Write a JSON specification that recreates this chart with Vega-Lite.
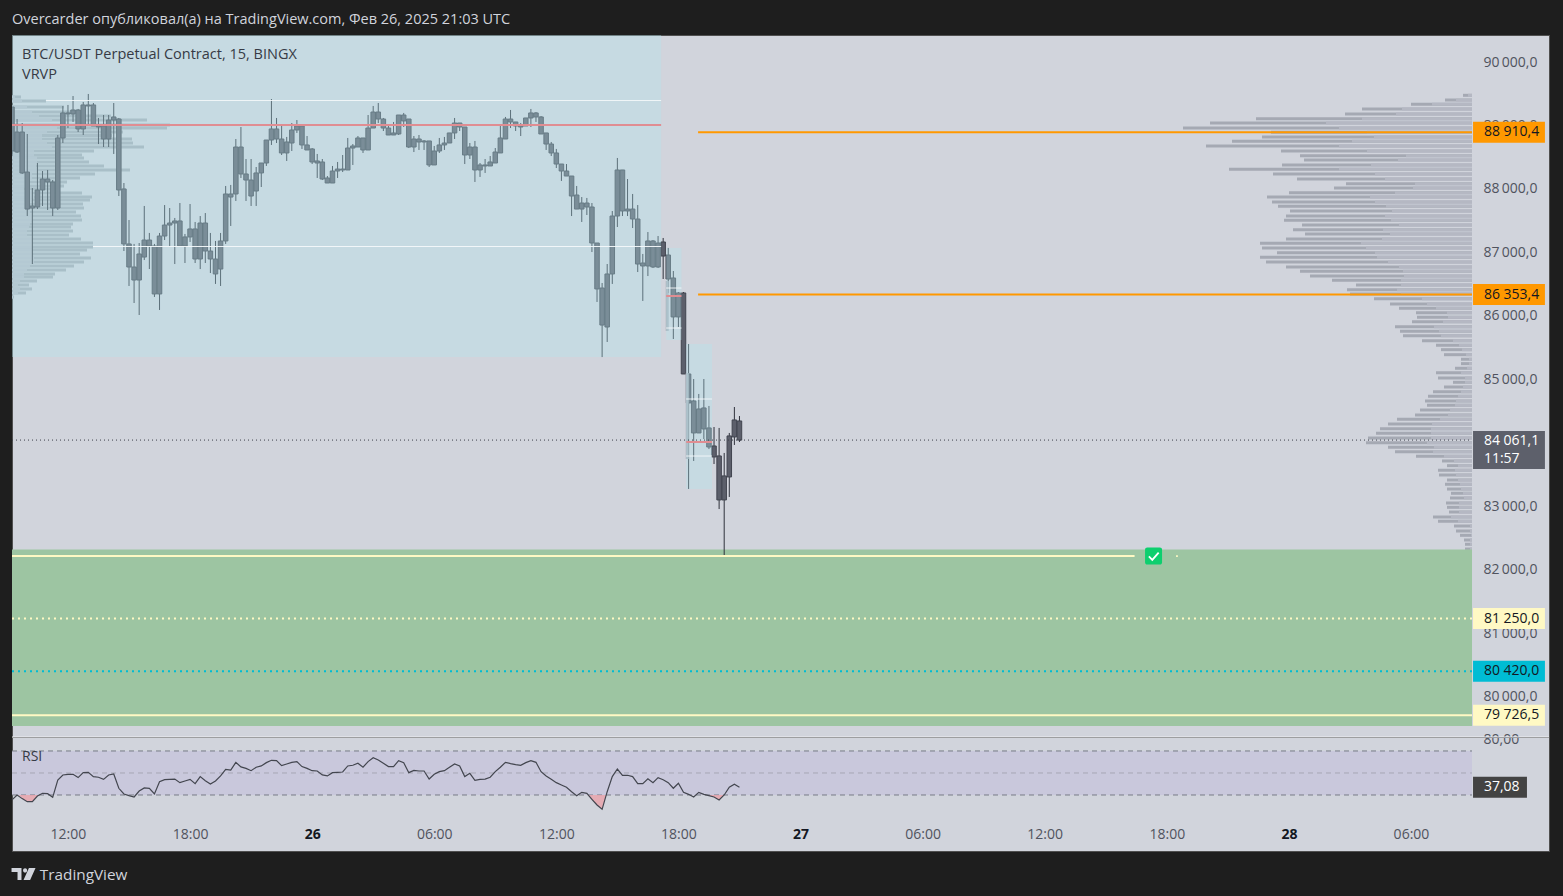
{
"$schema":"https://vega.github.io/schema/vega-lite/v6.json",
"background":"#1e1e1e",
"padding":{"left":9,"top":12,"right":13,"bottom":0},
"title":{"text":"Overcarder опубликовал(а) на TradingView.com, Фев 26, 2025 21:03 UTC","anchor":"start","frame":"group","fontSize":14.5,"fontWeight":"normal","color":"#d1d4dc","offset":7},
"config":{"font":"Open Sans","view":{"stroke":null}},
"spacing":0,
"bounds":"flush",
"datasets":{
"candles":[
{"t":"2025-02-25T09:15Z","o":89307,"h":89307,"l":88535,"c":88614,"rsi":25.5},
{"t":"2025-02-25T09:30Z","o":88598,"h":89118,"l":88583,"c":88913,"rsi":30},
{"t":"2025-02-25T09:45Z","o":88913,"h":89055,"l":88252,"c":88268,"rsi":26.7},
{"t":"2025-02-25T10:00Z","o":88283,"h":88882,"l":87590,"c":87700,"rsi":23.9},
{"t":"2025-02-25T10:15Z","o":87748,"h":88031,"l":86834,"c":87716,"rsi":23.9},
{"t":"2025-02-25T10:30Z","o":87732,"h":88425,"l":87700,"c":88000,"rsi":29.1},
{"t":"2025-02-25T10:45Z","o":88000,"h":88299,"l":87748,"c":88173,"rsi":31.5},
{"t":"2025-02-25T11:00Z","o":88173,"h":88315,"l":87685,"c":88126,"rsi":31.2},
{"t":"2025-02-25T11:15Z","o":88126,"h":88157,"l":87590,"c":87716,"rsi":27.9},
{"t":"2025-02-25T11:30Z","o":87716,"h":88866,"l":87685,"c":88819,"rsi":43.6},
{"t":"2025-02-25T11:45Z","o":88819,"h":89323,"l":88740,"c":89213,"rsi":48.2},
{"t":"2025-02-25T12:00Z","o":89213,"h":89339,"l":88976,"c":89197,"rsi":48.8},
{"t":"2025-02-25T12:15Z","o":89197,"h":89480,"l":89071,"c":89260,"rsi":48.8},
{"t":"2025-02-25T12:30Z","o":89260,"h":89276,"l":88913,"c":88961,"rsi":45.8},
{"t":"2025-02-25T12:45Z","o":88961,"h":89386,"l":88866,"c":89339,"rsi":50.3},
{"t":"2025-02-25T13:00Z","o":89339,"h":89512,"l":89039,"c":89323,"rsi":50.6},
{"t":"2025-02-25T13:15Z","o":89339,"h":89370,"l":89008,"c":89008,"rsi":46.7},
{"t":"2025-02-25T13:30Z","o":89008,"h":89134,"l":88724,"c":88992,"rsi":46.1},
{"t":"2025-02-25T13:45Z","o":89008,"h":89181,"l":88677,"c":88803,"rsi":44.2},
{"t":"2025-02-25T14:00Z","o":88803,"h":89181,"l":88677,"c":89102,"rsi":48.2},
{"t":"2025-02-25T14:15Z","o":89102,"h":89370,"l":88567,"c":89150,"rsi":49.1},
{"t":"2025-02-25T14:30Z","o":89118,"h":89134,"l":87905,"c":88000,"rsi":36.1},
{"t":"2025-02-25T14:45Z","o":88016,"h":88110,"l":87039,"c":87150,"rsi":30.9},
{"t":"2025-02-25T15:00Z","o":87150,"h":87527,"l":86488,"c":86787,"rsi":29.4},
{"t":"2025-02-25T15:15Z","o":86787,"h":87150,"l":86220,"c":86582,"rsi":28.2},
{"t":"2025-02-25T15:30Z","o":86582,"h":87165,"l":86031,"c":86992,"rsi":33.6},
{"t":"2025-02-25T15:45Z","o":86944,"h":87748,"l":86897,"c":87212,"rsi":36.4},
{"t":"2025-02-25T16:00Z","o":87212,"h":87323,"l":86755,"c":87118,"rsi":36.1},
{"t":"2025-02-25T16:15Z","o":87118,"h":87150,"l":86315,"c":86362,"rsi":30.9},
{"t":"2025-02-25T16:30Z","o":86362,"h":87323,"l":86110,"c":87275,"rsi":42.1},
{"t":"2025-02-25T16:45Z","o":87275,"h":87763,"l":87212,"c":87448,"rsi":43.9},
{"t":"2025-02-25T17:00Z","o":87448,"h":87716,"l":87118,"c":87480,"rsi":44.2},
{"t":"2025-02-25T17:15Z","o":87480,"h":87559,"l":86834,"c":87512,"rsi":44.5},
{"t":"2025-02-25T17:30Z","o":87512,"h":87795,"l":87118,"c":87118,"rsi":41.2},
{"t":"2025-02-25T17:45Z","o":87118,"h":87307,"l":86850,"c":87260,"rsi":42.7},
{"t":"2025-02-25T18:00Z","o":87260,"h":87779,"l":87181,"c":87386,"rsi":44.2},
{"t":"2025-02-25T18:15Z","o":87386,"h":87496,"l":86850,"c":86913,"rsi":40.3},
{"t":"2025-02-25T18:30Z","o":86913,"h":87590,"l":86755,"c":87480,"rsi":46.7},
{"t":"2025-02-25T18:45Z","o":87480,"h":87637,"l":86850,"c":87039,"rsi":43},
{"t":"2025-02-25T19:00Z","o":87039,"h":87323,"l":86692,"c":86913,"rsi":40},
{"t":"2025-02-25T19:15Z","o":86913,"h":87197,"l":86520,"c":86677,"rsi":42.7},
{"t":"2025-02-25T19:30Z","o":86755,"h":87323,"l":86488,"c":87197,"rsi":47.3},
{"t":"2025-02-25T19:45Z","o":87197,"h":88063,"l":87150,"c":87937,"rsi":53.3},
{"t":"2025-02-25T20:00Z","o":87937,"h":88079,"l":87433,"c":87889,"rsi":52.7},
{"t":"2025-02-25T20:15Z","o":87937,"h":88803,"l":87827,"c":88677,"rsi":59.7},
{"t":"2025-02-25T20:30Z","o":88677,"h":88992,"l":88189,"c":88252,"rsi":55.5},
{"t":"2025-02-25T20:45Z","o":88252,"h":88488,"l":87827,"c":88157,"rsi":54.2},
{"t":"2025-02-25T21:00Z","o":88157,"h":88488,"l":87748,"c":87905,"rsi":52.1},
{"t":"2025-02-25T21:15Z","o":87984,"h":88362,"l":87748,"c":88268,"rsi":55.2},
{"t":"2025-02-25T21:30Z","o":88268,"h":88425,"l":88047,"c":88425,"rsi":56.4},
{"t":"2025-02-25T21:45Z","o":88425,"h":88787,"l":88378,"c":88787,"rsi":59.4},
{"t":"2025-02-25T22:00Z","o":88787,"h":89433,"l":88709,"c":88961,"rsi":61.5},
{"t":"2025-02-25T22:15Z","o":88961,"h":89134,"l":88740,"c":88803,"rsi":61.2},
{"t":"2025-02-25T22:30Z","o":88803,"h":89024,"l":88551,"c":88583,"rsi":56.7},
{"t":"2025-02-25T22:45Z","o":88583,"h":88835,"l":88457,"c":88756,"rsi":58.2},
{"t":"2025-02-25T23:00Z","o":88740,"h":89055,"l":88614,"c":88945,"rsi":59.7},
{"t":"2025-02-25T23:15Z","o":88945,"h":89102,"l":88898,"c":89008,"rsi":60.3},
{"t":"2025-02-25T23:30Z","o":89008,"h":89008,"l":88646,"c":88709,"rsi":55.8},
{"t":"2025-02-25T23:45Z","o":88709,"h":88850,"l":88630,"c":88630,"rsi":54.2},
{"t":"2025-02-26T00:00Z","o":88646,"h":88661,"l":88409,"c":88441,"rsi":52.1},
{"t":"2025-02-26T00:15Z","o":88457,"h":88567,"l":88189,"c":88425,"rsi":51.8},
{"t":"2025-02-26T00:30Z","o":88441,"h":88488,"l":88157,"c":88173,"rsi":48.2},
{"t":"2025-02-26T00:45Z","o":88189,"h":88220,"l":88110,"c":88110,"rsi":47.3},
{"t":"2025-02-26T01:00Z","o":88110,"h":88378,"l":88110,"c":88299,"rsi":50.3},
{"t":"2025-02-26T01:15Z","o":88299,"h":88441,"l":88189,"c":88330,"rsi":50.6},
{"t":"2025-02-26T01:30Z","o":88315,"h":88551,"l":88283,"c":88330,"rsi":50.9},
{"t":"2025-02-26T01:45Z","o":88315,"h":88819,"l":88315,"c":88661,"rsi":56.4},
{"t":"2025-02-26T02:00Z","o":88661,"h":88724,"l":88394,"c":88693,"rsi":57},
{"t":"2025-02-26T02:15Z","o":88677,"h":88850,"l":88677,"c":88819,"rsi":58.8},
{"t":"2025-02-26T02:30Z","o":88819,"h":88819,"l":88583,"c":88630,"rsi":55.2},
{"t":"2025-02-26T02:45Z","o":88630,"h":89181,"l":88630,"c":88976,"rsi":60.3},
{"t":"2025-02-26T03:00Z","o":88976,"h":89323,"l":88976,"c":89228,"rsi":63.9},
{"t":"2025-02-26T03:15Z","o":89228,"h":89370,"l":89055,"c":89118,"rsi":61.8},
{"t":"2025-02-26T03:30Z","o":89118,"h":89134,"l":88929,"c":88976,"rsi":58.8},
{"t":"2025-02-26T03:45Z","o":88976,"h":89039,"l":88866,"c":88866,"rsi":55.8},
{"t":"2025-02-26T04:00Z","o":88866,"h":89071,"l":88866,"c":88898,"rsi":55.8},
{"t":"2025-02-26T04:15Z","o":88882,"h":89181,"l":88866,"c":89181,"rsi":61.2},
{"t":"2025-02-26T04:30Z","o":89181,"h":89213,"l":88992,"c":89087,"rsi":59.4},
{"t":"2025-02-26T04:45Z","o":89118,"h":89118,"l":88661,"c":88677,"rsi":50.3},
{"t":"2025-02-26T05:00Z","o":88677,"h":88850,"l":88598,"c":88803,"rsi":52.4},
{"t":"2025-02-26T05:15Z","o":88803,"h":88866,"l":88630,"c":88756,"rsi":51.8},
{"t":"2025-02-26T05:30Z","o":88756,"h":88787,"l":88630,"c":88772,"rsi":51.8},
{"t":"2025-02-26T05:45Z","o":88772,"h":88772,"l":88362,"c":88394,"rsi":44.5},
{"t":"2025-02-26T06:00Z","o":88394,"h":88693,"l":88394,"c":88614,"rsi":48.8},
{"t":"2025-02-26T06:15Z","o":88614,"h":88819,"l":88583,"c":88709,"rsi":51.2},
{"t":"2025-02-26T06:30Z","o":88709,"h":88835,"l":88630,"c":88740,"rsi":52.1},
{"t":"2025-02-26T06:45Z","o":88740,"h":88898,"l":88740,"c":88898,"rsi":55.2},
{"t":"2025-02-26T07:00Z","o":88898,"h":89134,"l":88803,"c":89055,"rsi":58.2},
{"t":"2025-02-26T07:15Z","o":89055,"h":89055,"l":88929,"c":88992,"rsi":56.4},
{"t":"2025-02-26T07:30Z","o":88992,"h":88992,"l":88409,"c":88551,"rsi":46.7},
{"t":"2025-02-26T07:45Z","o":88551,"h":88740,"l":88488,"c":88677,"rsi":49.7},
{"t":"2025-02-26T08:00Z","o":88677,"h":88772,"l":88126,"c":88315,"rsi":43.3},
{"t":"2025-02-26T08:15Z","o":88315,"h":88425,"l":88205,"c":88394,"rsi":44.2},
{"t":"2025-02-26T08:30Z","o":88394,"h":88488,"l":88268,"c":88378,"rsi":44.5},
{"t":"2025-02-26T08:45Z","o":88378,"h":88535,"l":88378,"c":88441,"rsi":46.1},
{"t":"2025-02-26T09:00Z","o":88425,"h":88661,"l":88425,"c":88598,"rsi":51.2},
{"t":"2025-02-26T09:15Z","o":88583,"h":89039,"l":88583,"c":88819,"rsi":55.2},
{"t":"2025-02-26T09:30Z","o":88803,"h":89150,"l":88803,"c":89118,"rsi":59.7},
{"t":"2025-02-26T09:45Z","o":89118,"h":89260,"l":88976,"c":89071,"rsi":58.5},
{"t":"2025-02-26T10:00Z","o":89071,"h":89071,"l":88929,"c":89008,"rsi":57.6},
{"t":"2025-02-26T10:15Z","o":89008,"h":89055,"l":88850,"c":88992,"rsi":57},
{"t":"2025-02-26T10:30Z","o":89008,"h":89134,"l":89008,"c":89134,"rsi":59.4},
{"t":"2025-02-26T10:45Z","o":89134,"h":89276,"l":88992,"c":89213,"rsi":61.2},
{"t":"2025-02-26T11:00Z","o":89213,"h":89228,"l":89071,"c":89150,"rsi":59.7},
{"t":"2025-02-26T11:15Z","o":89150,"h":89165,"l":88882,"c":88882,"rsi":51.2},
{"t":"2025-02-26T11:30Z","o":88898,"h":88898,"l":88630,"c":88724,"rsi":47.3},
{"t":"2025-02-26T11:45Z","o":88724,"h":88756,"l":88535,"c":88583,"rsi":44.2},
{"t":"2025-02-26T12:00Z","o":88583,"h":88646,"l":88346,"c":88409,"rsi":41.2},
{"t":"2025-02-26T12:15Z","o":88409,"h":88409,"l":88142,"c":88299,"rsi":39.1},
{"t":"2025-02-26T12:30Z","o":88299,"h":88409,"l":88220,"c":88220,"rsi":37},
{"t":"2025-02-26T12:45Z","o":88220,"h":88220,"l":87590,"c":87905,"rsi":33},
{"t":"2025-02-26T13:00Z","o":87921,"h":88063,"l":87700,"c":87700,"rsi":29.4},
{"t":"2025-02-26T13:15Z","o":87700,"h":87889,"l":87496,"c":87795,"rsi":32.4},
{"t":"2025-02-26T13:30Z","o":87795,"h":87874,"l":87606,"c":87732,"rsi":31.5},
{"t":"2025-02-26T13:45Z","o":87732,"h":87795,"l":87023,"c":87165,"rsi":26.1},
{"t":"2025-02-26T14:00Z","o":87165,"h":87165,"l":86236,"c":86441,"rsi":20.9},
{"t":"2025-02-26T14:15Z","o":86456,"h":86535,"l":85369,"c":85873,"rsi":17},
{"t":"2025-02-26T14:30Z","o":85842,"h":86834,"l":85606,"c":86677,"rsi":33},
{"t":"2025-02-26T14:45Z","o":86677,"h":87669,"l":86520,"c":87590,"rsi":46.7},
{"t":"2025-02-26T15:00Z","o":87590,"h":88504,"l":87417,"c":88315,"rsi":53.6},
{"t":"2025-02-26T15:15Z","o":88315,"h":88315,"l":87590,"c":87669,"rsi":47.9},
{"t":"2025-02-26T15:30Z","o":87669,"h":88173,"l":87590,"c":87700,"rsi":47.9},
{"t":"2025-02-26T15:45Z","o":87700,"h":87937,"l":87401,"c":87543,"rsi":46.7},
{"t":"2025-02-26T16:00Z","o":87543,"h":87763,"l":86708,"c":86834,"rsi":40.3},
{"t":"2025-02-26T16:15Z","o":86850,"h":86992,"l":86252,"c":86803,"rsi":40.3},
{"t":"2025-02-26T16:30Z","o":86803,"h":87338,"l":86645,"c":87197,"rsi":44.8},
{"t":"2025-02-26T16:45Z","o":87197,"h":87212,"l":86771,"c":86787,"rsi":41.2},
{"t":"2025-02-26T17:00Z","o":86787,"h":87275,"l":86771,"c":87165,"rsi":45.8},
{"t":"2025-02-26T17:15Z","o":87181,"h":87244,"l":86598,"c":86960,"rsi":43.9},
{"t":"2025-02-26T17:30Z","o":86976,"h":87087,"l":86378,"c":86598,"rsi":41.2},
{"t":"2025-02-26T17:45Z","o":86614,"h":86724,"l":85653,"c":86000,"rsi":36.1},
{"t":"2025-02-26T18:00Z","o":86000,"h":86393,"l":85842,"c":86378,"rsi":40.6},
{"t":"2025-02-26T18:15Z","o":86378,"h":86393,"l":85102,"c":85102,"rsi":32.4},
{"t":"2025-02-26T18:30Z","o":85102,"h":85574,"l":83291,"c":84645,"rsi":30.6},
{"t":"2025-02-26T18:45Z","o":84677,"h":85023,"l":83732,"c":84173,"rsi":28.2},
{"t":"2025-02-26T19:00Z","o":84173,"h":84787,"l":84173,"c":84551,"rsi":32.4},
{"t":"2025-02-26T19:15Z","o":84567,"h":85023,"l":84078,"c":84236,"rsi":30.6},
{"t":"2025-02-26T19:30Z","o":84252,"h":84598,"l":83920,"c":83952,"rsi":29.4},
{"t":"2025-02-26T19:45Z","o":83968,"h":84267,"l":83684,"c":83795,"rsi":28.2},
{"t":"2025-02-26T20:00Z","o":83811,"h":84252,"l":82975,"c":83118,"rsi":25.5},
{"t":"2025-02-26T20:15Z","o":83118,"h":83858,"l":82251,"c":83496,"rsi":30},
{"t":"2025-02-26T20:30Z","o":83480,"h":84173,"l":83165,"c":84126,"rsi":37},
{"t":"2025-02-26T20:45Z","o":84110,"h":84582,"l":83984,"c":84378,"rsi":39.7},
{"t":"2025-02-26T21:00Z","o":84362,"h":84440,"l":84031,"c":84061,"rsi":37.08}
],
"oversold":[
{"seg":"a","t":"2025-02-25T09:35Z","v":30},{"seg":"a","t":"2025-02-25T09:45Z","v":26.7},{"seg":"a","t":"2025-02-25T10:00Z","v":23.9},{"seg":"a","t":"2025-02-25T10:15Z","v":23.9},{"seg":"a","t":"2025-02-25T10:30Z","v":29.1},{"seg":"a","t":"2025-02-25T10:33Z","v":30},
{"seg":"b","t":"2025-02-26T13:33Z","v":30},{"seg":"b","t":"2025-02-26T13:45Z","v":26.1},{"seg":"b","t":"2025-02-26T14:00Z","v":20.9},{"seg":"b","t":"2025-02-26T14:15Z","v":17},{"seg":"b","t":"2025-02-26T14:27Z","v":30},
{"seg":"c","t":"2025-02-26T19:22Z","v":30},{"seg":"c","t":"2025-02-26T19:30Z","v":29.4},{"seg":"c","t":"2025-02-26T19:45Z","v":28.2},{"seg":"c","t":"2025-02-26T20:00Z","v":25.5},{"seg":"c","t":"2025-02-26T20:15Z","v":30}
],
"leftProfile":[
{"p":89465,"T":9,"L":3},{"p":89402,"T":34,"L":10},{"p":89307,"T":52,"L":15},{"p":89228,"T":67,"L":20},{"p":89165,"T":99,"L":27},{"p":89102,"T":135,"L":40},{"p":89024,"T":158,"L":40},{"p":88976,"T":155,"L":45},{"p":88913,"T":111,"L":35},{"p":88858,"T":100,"L":30},{"p":88803,"T":120,"L":30},{"p":88740,"T":121,"L":35},{"p":88677,"T":132,"L":40},{"p":88614,"T":82,"L":22},{"p":88551,"T":70,"L":22},{"p":88504,"T":72,"L":25},{"p":88441,"T":77,"L":25},{"p":88378,"T":92,"L":24},{"p":88315,"T":118,"L":25},{"p":88252,"T":83,"L":20},{"p":88189,"T":68,"L":20},{"p":88126,"T":55,"L":16},{"p":88063,"T":52,"L":15},{"p":88016,"T":47,"L":12},{"p":87952,"T":70,"L":20},{"p":87889,"T":80,"L":22},{"p":87842,"T":78,"L":20},{"p":87779,"T":71,"L":18},{"p":87716,"T":72,"L":18},{"p":87653,"T":64,"L":18},{"p":87590,"T":69,"L":20},{"p":87527,"T":70,"L":20},{"p":87464,"T":61,"L":18},{"p":87417,"T":59,"L":17},{"p":87354,"T":61,"L":15},{"p":87291,"T":57,"L":15},{"p":87228,"T":69,"L":20},{"p":87165,"T":81,"L":20},{"p":87102,"T":81,"L":20},{"p":87055,"T":75,"L":20},{"p":86992,"T":68,"L":20},{"p":86929,"T":79,"L":22},{"p":86866,"T":72,"L":22},{"p":86803,"T":62,"L":18},{"p":86740,"T":54,"L":15},{"p":86677,"T":43,"L":12},{"p":86630,"T":41,"L":12},{"p":86567,"T":25,"L":8},{"p":86504,"T":17,"L":6},{"p":86441,"T":20,"L":8},{"p":86378,"T":14,"L":6},{"p":86315,"T":2,"L":1}
],
"rightProfile":[
{"p":89491,"T":9,"L":4},{"p":89417,"T":27,"L":16},{"p":89349,"T":61,"L":40},{"p":89276,"T":110,"L":70},{"p":89197,"T":127,"L":76},{"p":89123,"T":216,"L":110},{"p":89055,"T":262,"L":146},{"p":88976,"T":289,"L":133},{"p":88908,"T":201,"L":105},{"p":88835,"T":210,"L":98},{"p":88767,"T":240,"L":120},{"p":88693,"T":266,"L":133},{"p":88614,"T":191,"L":105},{"p":88540,"T":172,"L":66},{"p":88472,"T":168,"L":74},{"p":88393,"T":190,"L":101},{"p":88326,"T":243,"L":133},{"p":88252,"T":199,"L":97},{"p":88173,"T":175,"L":87},{"p":88099,"T":126,"L":57},{"p":88031,"T":138,"L":59},{"p":87957,"T":183,"L":77},{"p":87889,"T":205,"L":102},{"p":87811,"T":200,"L":97},{"p":87743,"T":194,"L":86},{"p":87669,"T":182,"L":80},{"p":87590,"T":186,"L":87},{"p":87522,"T":188,"L":81},{"p":87449,"T":170,"L":73},{"p":87375,"T":179,"L":89},{"p":87307,"T":167,"L":82},{"p":87228,"T":186,"L":90},{"p":87160,"T":212,"L":111},{"p":87086,"T":210,"L":106},{"p":87012,"T":195,"L":97},{"p":86940,"T":212,"L":95},{"p":86866,"T":206,"L":84},{"p":86787,"T":186,"L":73},{"p":86719,"T":172,"L":69},{"p":86645,"T":162,"L":68},{"p":86578,"T":140,"L":71},{"p":86504,"T":116,"L":71},{"p":86430,"T":125,"L":75},{"p":86362,"T":122,"L":71},{"p":86288,"T":98,"L":50},{"p":86204,"T":82,"L":45},{"p":86136,"T":73,"L":36},{"p":86067,"T":56,"L":25},{"p":85994,"T":55,"L":24},{"p":85925,"T":60,"L":29},{"p":85847,"T":77,"L":38},{"p":85774,"T":72,"L":33},{"p":85705,"T":69,"L":31},{"p":85626,"T":50,"L":19},{"p":85554,"T":36,"L":13},{"p":85485,"T":31,"L":10},{"p":85406,"T":28,"L":6},{"p":85334,"T":11,"L":3},{"p":85265,"T":11,"L":3},{"p":85192,"T":17,"L":5},{"p":85122,"T":36,"L":11},{"p":85039,"T":34,"L":7},{"p":84971,"T":19,"L":7},{"p":84897,"T":28,"L":9},{"p":84823,"T":39,"L":11},{"p":84750,"T":44,"L":14},{"p":84677,"T":47,"L":16},{"p":84609,"T":45,"L":17},{"p":84535,"T":52,"L":22},{"p":84456,"T":57,"L":24},{"p":84389,"T":75,"L":32},{"p":84315,"T":84,"L":40},{"p":84241,"T":92,"L":41},{"p":84168,"T":96,"L":41},{"p":84094,"T":104,"L":41},{"p":84020,"T":106,"L":45},{"p":83947,"T":84,"L":38},{"p":83878,"T":77,"L":39},{"p":83805,"T":56,"L":28},{"p":83732,"T":30,"L":18},{"p":83658,"T":25,"L":14},{"p":83585,"T":34,"L":17},{"p":83511,"T":33,"L":16},{"p":83432,"T":25,"L":14},{"p":83365,"T":27,"L":12},{"p":83290,"T":25,"L":11},{"p":83223,"T":21,"L":9},{"p":83149,"T":22,"L":8},{"p":83070,"T":26,"L":13},{"p":83002,"T":25,"L":13},{"p":82928,"T":23,"L":13},{"p":82850,"T":39,"L":21},{"p":82782,"T":34,"L":14},{"p":82708,"T":18,"L":2},{"p":82629,"T":16,"L":2},{"p":82561,"T":12,"L":1},{"p":82487,"T":8,"L":2},{"p":82420,"T":7,"L":2},{"p":82345,"T":7,"L":2},{"p":82272,"T":4,"L":2}
],
"zones":[
{"start":"2025-02-25T09:15Z","end":"2025-02-26T17:09Z","top":90441,"bottom":85370},
{"start":"2025-02-26T17:24Z","end":"2025-02-26T18:09Z","top":87086,"bottom":85637},
{"start":"2025-02-26T18:23Z","end":"2025-02-26T19:39Z","top":85574,"bottom":83290}
],
"strips":[
{"t":"2025-02-26T17:27Z","top":86567,"bottom":85779},
{"t":"2025-02-26T18:26Z","top":85117,"bottom":83763}
],
"target":[{"start":"2025-02-25T09:15Z","end":"2025-02-28T09:00Z","top":82338,"bottom":79558}],
"levels":[
{"kind":"va","start":"2025-02-25T10:55Z","end":"2025-02-26T17:09Z","p":89409},
{"kind":"va","start":"2025-02-25T13:14Z","end":"2025-02-26T17:09Z","p":87110},
{"kind":"va","start":"2025-02-26T17:24Z","end":"2025-02-26T18:09Z","p":86456},
{"kind":"va","start":"2025-02-26T17:24Z","end":"2025-02-26T18:09Z","p":85826},
{"kind":"va","start":"2025-02-26T18:23Z","end":"2025-02-26T19:39Z","p":84708},
{"kind":"va","start":"2025-02-26T18:23Z","end":"2025-02-26T19:39Z","p":83810},
{"kind":"last","start":"2025-02-25T09:15Z","end":"2025-02-28T09:00Z","p":84061.1},
{"kind":"poc","start":"2025-02-25T09:15Z","end":"2025-02-26T17:09Z","p":89023},
{"kind":"poc","start":"2025-02-26T17:24Z","end":"2025-02-26T18:09Z","p":86330},
{"kind":"poc","start":"2025-02-26T18:23Z","end":"2025-02-26T19:39Z","p":84031},
{"kind":"orange","start":"2025-02-26T18:58Z","end":"2025-02-28T09:00Z","p":88910.4},
{"kind":"orange","start":"2025-02-26T18:58Z","end":"2025-02-28T09:00Z","p":86353.4},
{"kind":"yellow","start":"2025-02-25T09:15Z","end":"2025-02-27T16:25Z","p":82235},
{"kind":"yellowdot","start":"2025-02-25T09:15Z","end":"2025-02-28T09:00Z","p":81250},
{"kind":"cyandot","start":"2025-02-25T09:15Z","end":"2025-02-28T09:00Z","p":80420},
{"kind":"yellow","start":"2025-02-25T09:15Z","end":"2025-02-28T09:00Z","p":79726.5}
],
"tags":[
{"label":"88 910,4","p":88910.4,"kind":"orange"},
{"label":"86 353,4","p":86353.4,"kind":"orange"},
{"label":"81 250,0","p":81250,"kind":"yellow"},
{"label":"80 420,0","p":80420,"kind":"cyan"},
{"label":"79 726,5","p":79726.5,"kind":"yellow"}
],
"lastTag":[{"top":84204,"bottom":83606}],
"lastText":[{"label":"84 061,1","p":84047},{"label":"11:57","p":83763}],
"notes":[
{"label":"BTC/USDT Perpetual Contract, 15, BINGX","p":90126},
{"label":"VRVP","p":89811}
],
"check":[{"t":"2025-02-27T17:21Z","p":82235}],
"dot":[{"t":"2025-02-27T18:30Z","p":82235}],
"rsiBand":[{"start":"2025-02-25T09:15Z","end":"2025-02-28T09:00Z","top":70,"bottom":30}],
"rsiLevels":[
{"kind":"outer","start":"2025-02-25T09:15Z","end":"2025-02-28T09:00Z","v":70},
{"kind":"mid","start":"2025-02-25T09:15Z","end":"2025-02-28T09:00Z","v":50},
{"kind":"outer","start":"2025-02-25T09:15Z","end":"2025-02-28T09:00Z","v":30}
]
},
"vconcat":[
{
"width":1537,"height":702,
"view":{"fill":"#d1d4dc","stroke":"#4f4f4f"},
"resolve":{"scale":{"x":"independent"}},
"layer":[
{"layer":[
{"data":{"name":"leftProfile"},"mark":{"type":"bar","orient":"horizontal","size":3,"color":"#a5abb4"},
 "encoding":{"x":{"field":"T","type":"quantitative","stack":null,"axis":null,"scale":{"domain":[0,1537],"nice":false}},"y":{"field":"p","type":"quantitative","scale":{"domain":[79384.5,90441],"nice":false,"zero":false,"padding":0}}}},
{"data":{"name":"leftProfile"},"mark":{"type":"bar","orient":"horizontal","size":3,"color":"#b6bbc5"},
 "encoding":{"x":{"field":"L","type":"quantitative","stack":null,"axis":null},"y":{"field":"p","type":"quantitative"}}}
]},
{"layer":[
{"data":{"name":"rightProfile"},"mark":{"type":"bar","orient":"horizontal","size":3,"color":"#a5a9b3"},
 "encoding":{"x":{"field":"T","type":"quantitative","stack":null,"axis":null,"scale":{"domain":[-77,1460],"reverse":true,"zero":false,"nice":false}},"y":{"field":"p","type":"quantitative"}}},
{"data":{"name":"rightProfile"},"mark":{"type":"bar","orient":"horizontal","size":3,"color":"#b5b8c3"},
 "encoding":{"x":{"field":"L","type":"quantitative","stack":null,"axis":null},"y":{"field":"p","type":"quantitative"}}}
]},
{"resolve":{"scale":{"color":"independent","strokeDash":"independent"}},"layer":[
{"data":{"name":"target"},"mark":{"type":"rect","color":"#9dc5a2"},
 "encoding":{"x":{"field":"start","type":"temporal","axis":null,"scale":{"type":"utc","padding":0,"domain":["2025-02-25T09:15:00Z","2025-02-28T12:47:00Z"]}},"x2":{"field":"end"},"y":{"field":"top","type":"quantitative"},"y2":{"field":"bottom"}}},
{"data":{"name":"candles"},"mark":{"type":"rule","color":"#2f323c","strokeWidth":1,"clip":true},
 "encoding":{"x":{"field":"t","type":"temporal","axis":null},"y":{"field":"l","type":"quantitative"},"y2":{"field":"h"}}},
{"data":{"name":"candles"},"mark":{"type":"bar","size":4.5,"color":"#5c5f6b","stroke":"#41444f","strokeWidth":1,"clip":true},
 "encoding":{"x":{"field":"t","type":"temporal","axis":null},"y":{"field":"o","type":"quantitative"},"y2":{"field":"c"}}},
{"data":{"name":"strips"},"mark":{"type":"rule","color":"#aab0b9","strokeWidth":3},
 "encoding":{"x":{"field":"t","type":"temporal","axis":null},"y":{"field":"top","type":"quantitative"},"y2":{"field":"bottom"}}},
{"data":{"name":"zones"},"mark":{"type":"rect","color":"#b2e6ef","opacity":0.35},
 "encoding":{"x":{"field":"start","type":"temporal","axis":null},"x2":{"field":"end"},"y":{"field":"top","type":"quantitative"},"y2":{"field":"bottom"}}},
{"data":{"name":"levels"},"transform":[{"filter":{"field":"kind","oneOf":["va","last"]}}],"mark":{"type":"rule","strokeWidth":1},
 "encoding":{"x":{"field":"start","type":"temporal","axis":null},"x2":{"field":"end"},"y":{"field":"p","type":"quantitative"},
 "color":{"field":"kind","type":"nominal","legend":null,"scale":{"domain":["va","last"],"range":["#f4f8fa","#3c3f49"]}},
 "strokeDash":{"field":"kind","type":"nominal","legend":null,"scale":{"domain":["va","last"],"range":[[1,0],[1,3]]}}}},
{"data":{"name":"levels"},"transform":[{"filter":{"field":"kind","oneOf":["poc","orange","yellow","yellowdot","cyandot"]}}],"mark":{"type":"rule","strokeWidth":2},
 "encoding":{"x":{"field":"start","type":"temporal","axis":null},"x2":{"field":"end"},"y":{"field":"p","type":"quantitative"},
 "color":{"field":"kind","type":"nominal","legend":null,"scale":{"domain":["poc","orange","yellow","yellowdot","cyandot"],"range":["#e08d92","#ff9800","#fff9c4","#fff9c4","#00bcd4"]}},
 "strokeDash":{"field":"kind","type":"nominal","legend":null,"scale":{"domain":["poc","orange","yellow","yellowdot","cyandot"],"range":[[1,0],[1,0],[1,0],[2,4],[2,4]]}}}},
{"data":{"name":"check"},"mark":{"type":"point","filled":true,"opacity":1,"color":"#0dcf6e","size":289,"shape":"M-0.75,-1H0.75A0.25,0.25 0 0 1 1,-0.75V0.75A0.25,0.25 0 0 1 0.75,1H-0.75A0.25,0.25 0 0 1 -1,0.75V-0.75A0.25,0.25 0 0 1 -0.75,-1Z"},
 "encoding":{"x":{"field":"t","type":"temporal","axis":null},"y":{"field":"p","type":"quantitative"}}},
{"data":{"name":"check"},"mark":{"type":"point","filled":false,"opacity":1,"color":"#ffffff","strokeWidth":1.8,"size":289,"shape":"M-0.55,0.05L-0.15,0.45L0.6,-0.4"},
 "encoding":{"x":{"field":"t","type":"temporal","axis":null},"y":{"field":"p","type":"quantitative"}}},
{"data":{"name":"dot"},"mark":{"type":"point","filled":true,"opacity":1,"color":"#fff9c4","size":3,"shape":"square"},
 "encoding":{"x":{"field":"t","type":"temporal","axis":null},"y":{"field":"p","type":"quantitative"}}},
{"data":{"name":"tags"},"mark":{"type":"rule","strokeWidth":21},
 "encoding":{"x":{"datum":{"year":2025,"month":2,"date":28,"hours":9,"minutes":3,"utc":true},"type":"temporal","axis":null},"x2":{"datum":{"year":2025,"month":2,"date":28,"hours":12,"minutes":35,"utc":true}},"y":{"field":"p","type":"quantitative"},
 "color":{"field":"kind","type":"nominal","legend":null,"scale":{"domain":["orange","yellow","cyan"],"range":["#ff9800","#fff9c4","#00bcd4"]}}}},
{"data":{"name":"lastTag"},"mark":{"type":"rect","color":"#5d606b"},
 "encoding":{"x":{"datum":{"year":2025,"month":2,"date":28,"hours":9,"minutes":3,"utc":true},"type":"temporal","axis":null},"x2":{"datum":{"year":2025,"month":2,"date":28,"hours":12,"minutes":35,"utc":true}},"y":{"field":"top","type":"quantitative"},"y2":{"field":"bottom"}}},
{"data":{"name":"tags"},"mark":{"type":"text","align":"left","baseline":"middle","fontSize":14,"color":"#131722"},
 "encoding":{"x":{"datum":{"year":2025,"month":2,"date":28,"hours":9,"minutes":35,"utc":true},"type":"temporal","axis":null},"y":{"field":"p","type":"quantitative"},"text":{"field":"label"}}},
{"data":{"name":"lastText"},"mark":{"type":"text","align":"left","baseline":"middle","fontSize":14,"color":"#ffffff"},
 "encoding":{"x":{"datum":{"year":2025,"month":2,"date":28,"hours":9,"minutes":35,"utc":true},"type":"temporal","axis":null},"y":{"field":"p","type":"quantitative"},"text":{"field":"label"}}}
]},
{"data":{"name":"notes"},"mark":{"type":"text","align":"left","baseline":"middle","fontSize":14.5,"color":"#363a45"},
 "encoding":{"x":{"datum":{"year":2025,"month":2,"date":25,"hours":9,"minutes":44,"seconds":30,"utc":true},"type":"temporal","axis":null,"scale":{"type":"utc","domain":["2025-02-25T09:15:00Z","2025-02-28T12:47:00Z"]}},
 "y":{"field":"p","type":"quantitative",
  "axis":{"orient":"right","offset":-66,"values":[80000,81000,82000,83000,85000,86000,87000,88000,89000,90000],"title":null,"grid":false,"domain":false,"ticks":false,"labelPadding":0,"labelOffset":-1,"labelAlign":"left","labelColor":"#50535e","labelFontSize":14,"labelExpr":"replace(replace(format(datum.value,',.1f'),',','\u2009'),'.',',')"}},"text":{"field":"label"}}}
]
},
{
"width":1537,"height":114,
"view":{"fill":"#d1d4dc","stroke":"#4f4f4f"},
"layer":[
{"data":{"name":"rsiBand"},"mark":{"type":"rect","color":"#c9c8dc"},
 "encoding":{"x":{"field":"start","type":"temporal","scale":{"type":"utc","domain":["2025-02-25T09:15:00Z","2025-02-28T12:47:00Z"]},
  "axis":{"orient":"bottom","offset":-24,"title":null,"grid":false,"domain":false,"ticks":false,"labelPadding":0,"labelFontSize":14,"labelColor":{"condition":{"test":"utchours(datum.value)==0","value":"#131722"},"value":"#50535e"},"labelFontWeight":{"condition":{"test":"utchours(datum.value)==0","value":"bold"},"value":"normal"},
  "values":["2025-02-25T12:00:00Z","2025-02-25T18:00:00Z","2025-02-26T00:00:00Z","2025-02-26T06:00:00Z","2025-02-26T12:00:00Z","2025-02-26T18:00:00Z","2025-02-27T00:00:00Z","2025-02-27T06:00:00Z","2025-02-27T12:00:00Z","2025-02-27T18:00:00Z","2025-02-28T00:00:00Z","2025-02-28T06:00:00Z"],
  "labelExpr":"utchours(datum.value)==0 ? ''+utcdate(datum.value) : utcFormat(datum.value,'%H:%M')"}},
 "x2":{"field":"end"},
 "y":{"field":"top","type":"quantitative","scale":{"domain":[-20.9,82.7],"nice":false,"zero":false},
  "axis":{"orient":"right","offset":-66,"values":[80],"title":null,"grid":false,"domain":false,"ticks":false,"labelPadding":0,"labelAlign":"left","labelColor":"#50535e","labelFontSize":14,"labelExpr":"replace(format(datum.value,'.2f'),'.',',')"}},
 "y2":{"field":"bottom"}}},
{"data":{"name":"rsiLevels"},"mark":{"type":"rule","strokeWidth":1,"strokeDash":[5,4]},
 "encoding":{"x":{"field":"start","type":"temporal"},"x2":{"field":"end"},"y":{"field":"v","type":"quantitative"},
 "color":{"field":"kind","type":"nominal","legend":null,"scale":{"domain":["outer","mid"],"range":["#787b86","#a6a7b5"]}}}},
{"data":{"name":"oversold"},"mark":{"type":"area","color":"#e9a5ad","opacity":0.85},
 "encoding":{"x":{"field":"t","type":"temporal"},"y":{"field":"v","type":"quantitative"},"y2":{"datum":30},"detail":{"field":"seg"}}},
{"data":{"name":"candles"},"mark":{"type":"line","color":"#43464f","strokeWidth":1.2},
 "encoding":{"x":{"field":"t","type":"temporal"},"y":{"field":"rsi","type":"quantitative"}}},
{"data":{"values":[{"label":"RSI","v":64.5}]},"mark":{"type":"text","align":"left","baseline":"middle","fontSize":14,"color":"#363a45"},
 "encoding":{"x":{"datum":{"year":2025,"month":2,"date":25,"hours":9,"minutes":44,"seconds":30,"utc":true},"type":"temporal"},"y":{"field":"v","type":"quantitative"},"text":{"field":"label"}}},
{"data":{"values":[{"label":"37,08","v":37.08}]},"mark":{"type":"rule","strokeWidth":21,"color":"#434343"},
 "encoding":{"x":{"datum":{"year":2025,"month":2,"date":28,"hours":9,"minutes":3,"utc":true},"type":"temporal"},"x2":{"datum":{"year":2025,"month":2,"date":28,"hours":11,"minutes":42,"utc":true}},"y":{"field":"v","type":"quantitative"}}},
{"data":{"values":[{"label":"37,08","v":37.08}]},"mark":{"type":"text","align":"left","baseline":"middle","fontSize":14,"color":"#ffffff"},
 "encoding":{"x":{"datum":{"year":2025,"month":2,"date":28,"hours":9,"minutes":35,"utc":true},"type":"temporal"},"y":{"field":"v","type":"quantitative"},"text":{"field":"label"}}},
{"data":{"values":[{"v":82.7}]},"mark":{"type":"rule","color":"#eceef2","strokeWidth":1},
 "encoding":{"x":{"datum":{"year":2025,"month":2,"date":25,"hours":9,"minutes":15,"utc":true},"type":"temporal"},"x2":{"datum":{"year":2025,"month":2,"date":28,"hours":12,"minutes":47,"utc":true}},"y":{"field":"v","type":"quantitative"}}}
]
},
{
"width":1537,"height":45,
"data":{"values":[{"name":"TradingView"}]},
"layer":[
{"mark":{"type":"point","filled":true,"opacity":1,"color":"#d1d4dc","size":576,"shape":"M-1,-0.5H-0.17V0.5H-0.5V-0.17H-1Z M0.3,-0.3A0.17,0.17 0 1 1 -0.04,-0.3A0.17,0.17 0 1 1 0.3,-0.3Z M0.45,-0.5H1L0.55,0.5H0Z"},
 "encoding":{"x":{"datum":12,"type":"quantitative","axis":null,"scale":{"domain":[0,1537]}},"y":{"datum":23,"type":"quantitative","axis":null,"scale":{"domain":[45,0]}}}},
{"mark":{"type":"text","align":"left","baseline":"middle","fontSize":15.3,"color":"#d1d4dc"},
 "encoding":{"x":{"datum":29,"type":"quantitative","axis":null},"y":{"datum":24,"type":"quantitative","axis":null},"text":{"field":"name"}}}
]
}
]
}
